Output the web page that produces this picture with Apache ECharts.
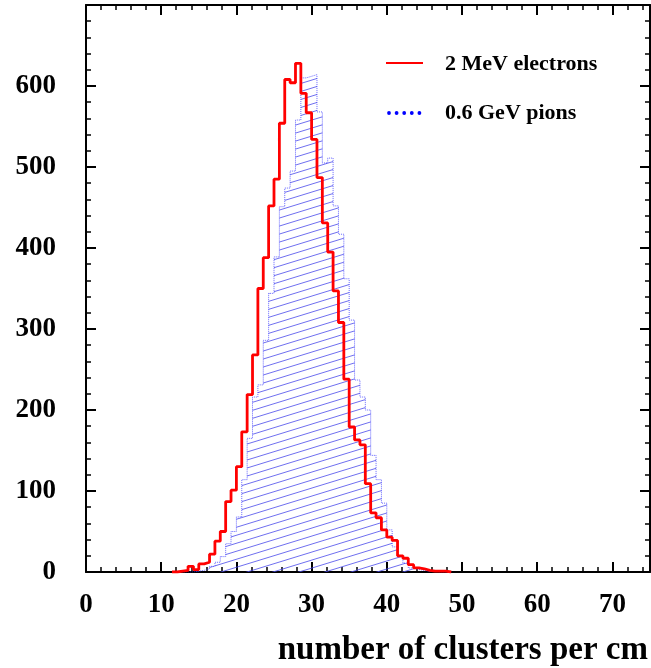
<!DOCTYPE html>
<html>
<head>
<meta charset="utf-8">
<script src="https://cdn.jsdelivr.net/npm/echarts@6/dist/echarts.min.js"></script>
<style>
html,body{margin:0;padding:0;background:#fff;}
#chart{width:651px;height:668px;}
</style>
</head>
<body>
<div id="chart"></div>
<script>
// ---- data ----
const binWidth = 75 / 105;      // histogram bin width (x units)
const firstBin = 16;            // index of the first listed bin
// counts per bin, starting at bin index firstBin
const electrons = [0, 1, 2, 7, 3, 10, 12, 22, 38, 50, 87, 101, 130, 173, 219, 268, 350, 388, 452, 485,
  554, 608, 604, 628, 591, 567, 534, 487, 431, 395, 347, 308, 238, 179, 163, 157, 109, 73, 67, 52,
  43, 39, 20, 17, 9, 5, 4, 2, 1, 1, 1, 0];
const pions = [0, 0, 0, 0, 1, 2, 4, 7, 12, 19, 35, 50, 68, 114, 165, 216, 231, 286, 344, 389,
  451, 474, 495, 558, 610, 612, 614, 568, 505, 511, 452, 417, 362, 311, 237, 216, 200, 144, 114, 85,
  52, 31, 19, 11, 5, 3, 2, 1, 1, 0, 0, 0];
const seriesNames = ['2 MeV electrons', '0.6 GeV pions'];
const xTitle = 'number of clusters per cm';
const xRange = [0, 75];
const yRange = [0, 700];

function toSteps(counts) {
  const pts = counts.map((v, i) => [(firstBin + i) * binWidth, v]);
  pts.push([(firstBin + counts.length) * binWidth, 0]);
  return pts;
}

function hatchPattern() {
  const c = document.createElement('canvas');
  c.width = 26; c.height = 8;
  const g = c.getContext('2d');
  g.strokeStyle = 'rgba(75,75,235,0.8)';
  g.lineWidth = 1;
  for (let k = -1; k <= 1; k++) {
    g.beginPath();
    g.moveTo(-26, 16 + 8 * k);
    g.lineTo(52, -8 + 8 * k);
    g.stroke();
  }
  return c;
}

const FONT = 'Liberation Serif';
const chart = echarts.init(document.getElementById('chart'), null, {renderer: 'canvas'});

const axisLine = {show: true, onZero: false, lineStyle: {color: '#000', width: 2}};
const tick = {show: true, inside: true, length: 10, lineStyle: {color: '#000', width: 2}};
const minor = {show: true, splitNumber: 5, length: 5, lineStyle: {color: '#000', width: 1.5}};
const labelStyle = {color: '#000', fontFamily: FONT, fontWeight: 'bold', fontSize: 27};

chart.setOption({
  animation: false,
  grid: {left: 86, right: 1, top: 5, bottom: 96, containLabel: false},
  xAxis: [
    {type: 'value', min: xRange[0], max: xRange[1], interval: 10, position: 'bottom',
     axisLine: axisLine, axisTick: tick, minorTick: minor, splitLine: {show: false},
     axisLabel: Object.assign({margin: 20, showMaxLabel: false}, labelStyle)},
    {type: 'value', min: xRange[0], max: xRange[1], interval: 10, position: 'top',
     axisLine: axisLine, axisTick: tick, minorTick: minor, splitLine: {show: false},
     axisLabel: {show: false}}
  ],
  yAxis: [
    {type: 'value', min: yRange[0], max: yRange[1], interval: 100, position: 'left',
     axisLine: axisLine, axisTick: tick, minorTick: minor, splitLine: {show: false},
     axisLabel: Object.assign({margin: 30, showMaxLabel: false}, labelStyle)},
    {type: 'value', min: yRange[0], max: yRange[1], interval: 100, position: 'right',
     axisLine: axisLine, axisTick: tick, minorTick: minor, splitLine: {show: false},
     axisLabel: {show: false}}
  ],
  series: [
    {name: seriesNames[1], type: 'line', step: 'end', data: toSteps(pions),
     xAxisIndex: 0, yAxisIndex: 0, symbol: 'none', z: 2,
     lineStyle: {color: 'rgba(40,40,255,0.7)', width: 1, type: 'dotted'},
     areaStyle: {color: {image: hatchPattern(), repeat: 'repeat'}, opacity: 1}},
    {name: seriesNames[0], type: 'line', step: 'end', data: toSteps(electrons),
     xAxisIndex: 0, yAxisIndex: 0, symbol: 'none', z: 3,
     lineStyle: {color: '#ff0000', width: 2.8}}
  ],
  graphic: [
    {type: 'line', shape: {x1: 386, y1: 63, x2: 423, y2: 63}, style: {stroke: '#ff0000', lineWidth: 2}},
    {type: 'group', children: [0, 1, 2, 3, 4].map(i => ({
      type: 'circle', shape: {cx: 389 + i * 7.6, cy: 113, r: 1.9}, style: {fill: '#0000ff'}}))},
    {type: 'text', x: 445, y: 64, style: {text: seriesNames[0], font: 'bold 22px "' + FONT + '"',
      fill: '#000', textVerticalAlign: 'middle'}},
    {type: 'text', x: 445, y: 113, style: {text: seriesNames[1], font: 'bold 22px "' + FONT + '"',
      fill: '#000', textVerticalAlign: 'middle'}},
    {type: 'text', x: 648, y: 650, style: {text: xTitle, font: 'bold 33px "' + FONT + '"',
      fill: '#000', textAlign: 'right', textVerticalAlign: 'middle'}}
  ]
});
</script>
</body>
</html>
